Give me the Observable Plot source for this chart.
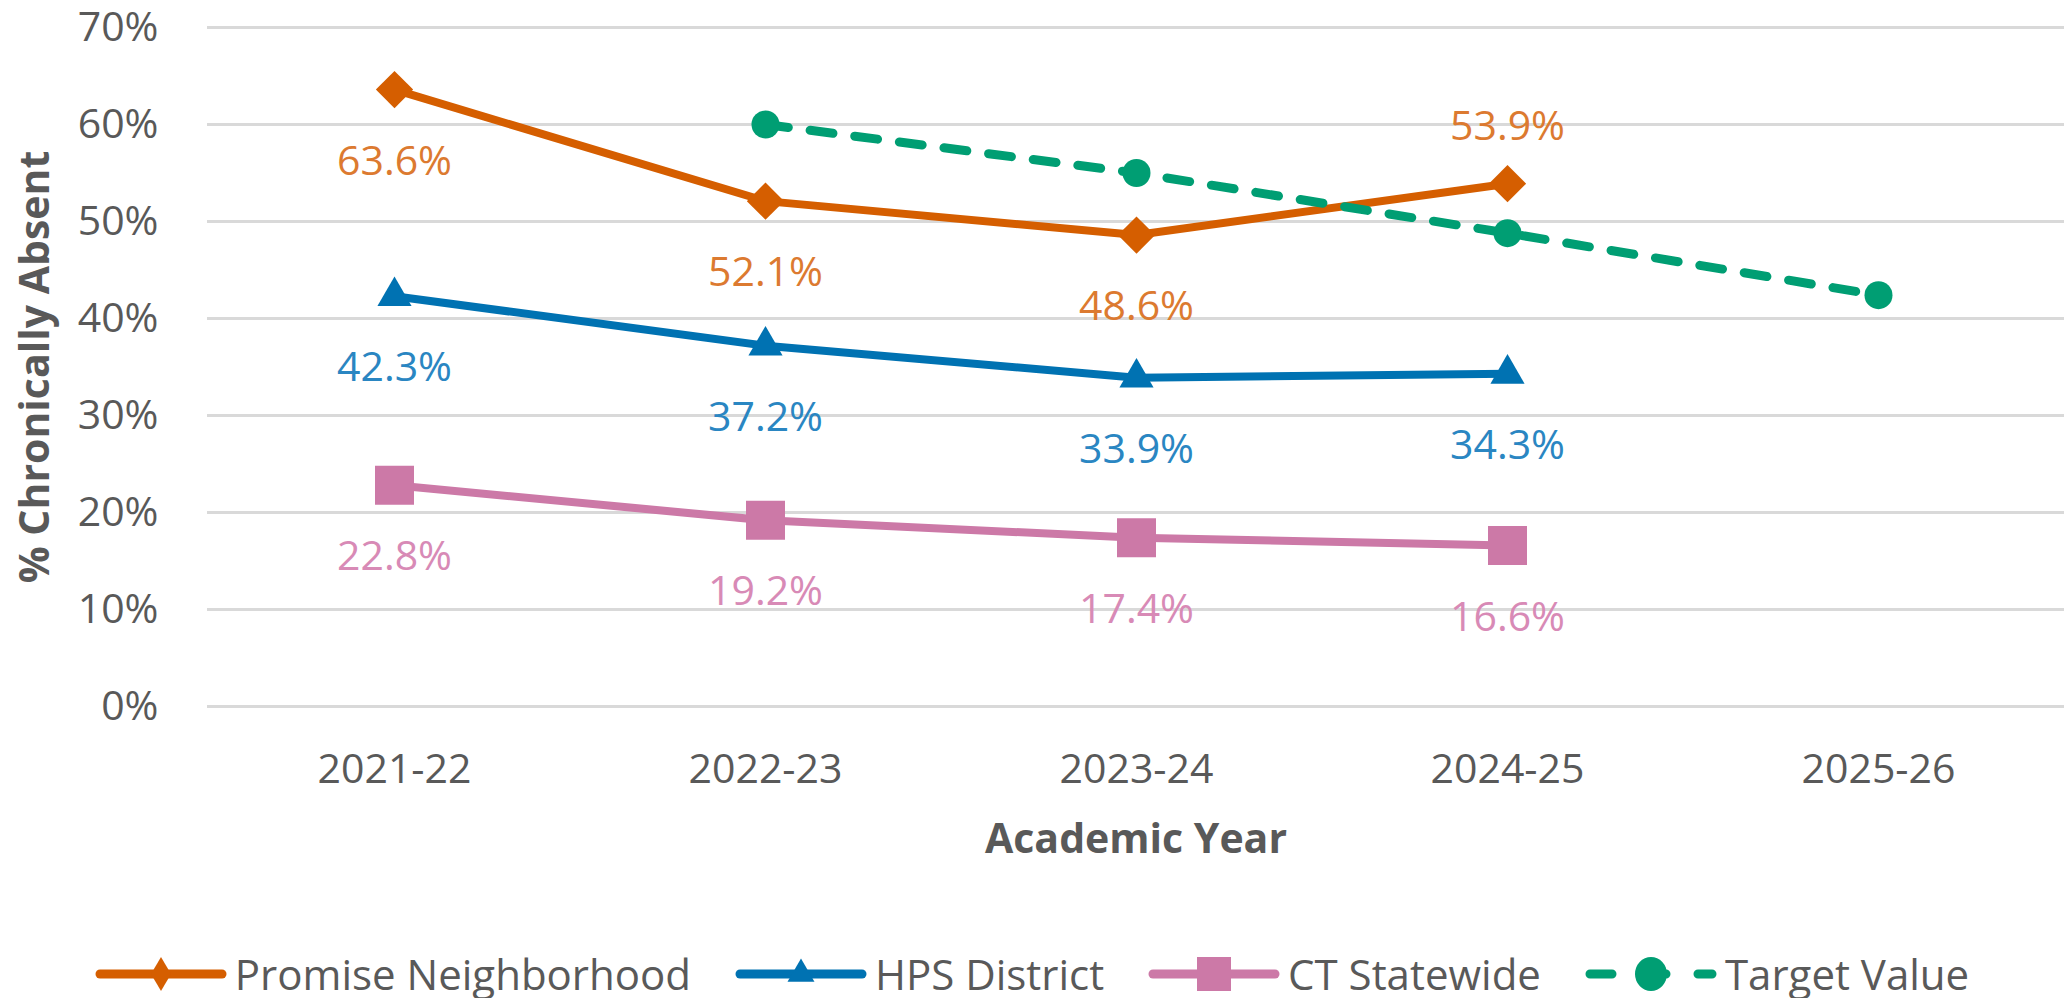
<!DOCTYPE html>
<html><head><meta charset="utf-8">
<script src="https://cdn.jsdelivr.net/npm/d3@7"></script>
<script src="https://cdn.jsdelivr.net/npm/@observablehq/plot@0.6"></script>
<style>
body{margin:0;background:#fff;font-family:"Open Sans",sans-serif;overflow:hidden;}
#chart svg{display:block;}
#legend{display:flex;justify-content:center;align-items:center;height:48px;font-size:42px;line-height:1;color:#595959;white-space:nowrap;}
.item{display:flex;align-items:center;margin:0 22px;}
.item svg{margin-right:8px;display:block;}
</style></head><body>
<div id="chart"></div><div id="legend"></div>
<script>
const years = ["2021-22","2022-23","2023-24","2024-25","2025-26"];
const seriesNames = ["Promise Neighborhood","HPS District","CT Statewide","Target Value"];
const promise = [63.6, 52.1, 48.6, 53.9, null];
const hps = [42.3, 37.2, 33.9, 34.3, null];
const ct = [22.8, 19.2, 17.4, 16.6, null];
const target = [null, 60.0, 55.0, 48.8, 42.4];
const yTicks = [0, 10, 20, 30, 40, 50, 60, 70];
const colors = ["#D55E00", "#0072B2", "#CC79A7", "#009E73"];
const labelColors = ["#DC7A30", "#2A86C2", "#D88AB6", "#009E73"];
const symbols = ["diamond2", "triangle2", "square", "circle"];

const values = [promise, hps, ct, target];
const rows = [];
values.forEach((arr, si) => arr.forEach((v, i) => {
  if (v != null) rows.push({series: seriesNames[si], year: years[i], value: v});
}));

const dotR = [16.8, 16.3, 22, 14];
const FS = 41;
const marks = [
  Plot.gridY(yTicks, {stroke: "#D9D9D9", strokeWidth: 3, strokeOpacity: 1}),
  Plot.axisY(yTicks, {tickSize: 0, tickPadding: 49, fontSize: FS, tickFormat: d => d + "%", label: null}),
  Plot.axisX({tickSize: 0, tickPadding: 47, fontSize: FS, label: null}),
  Plot.text(["% Chronically Absent"], {frameAnchor: "left", textAnchor: "middle", rotate: -90, dx: -172, fontSize: FS, fontWeight: "bold", fill: "#595959"}),
  Plot.text(["Academic Year"], {frameAnchor: "bottom", textAnchor: "middle", dy: 146, fontSize: FS, fontWeight: "bold", fill: "#595959"})
];
seriesNames.forEach((s, si) => {
  const data = rows.filter(d => d.series === s);
  const isTarget = s === "Target Value";
  marks.push(Plot.line(data, {x: "year", y: "value", stroke: colors[si], strokeWidth: isTarget ? 9 : 8,
    strokeDasharray: isTarget ? "23,22" : null, strokeLinecap: isTarget ? "round" : "butt", strokeLinejoin: "round"}));
  marks.push(Plot.dot(data, {x: "year", y: "value", symbol: symbols[si], r: dotR[si], fill: colors[si], stroke: "none"}));
});
// data labels
seriesNames.slice(0, 3).forEach((s, si) => {
  const data = rows.filter(d => d.series === s);
  const above = d => s === "Promise Neighborhood" && d.year === "2024-25";
  marks.push(Plot.text(data.filter(d => !above(d)), {x: "year", y: "value", text: d => d.value.toFixed(1) + "%", fill: labelColors[si], fontSize: FS, dy: 72}));
  marks.push(Plot.text(data.filter(above), {x: "year", y: "value", text: d => d.value.toFixed(1) + "%", fill: labelColors[si], fontSize: FS, dy: -57}));
});

const chart = Plot.plot({
  width: 2064, height: 950,
  marginLeft: 207, marginRight: 0, marginTop: 27, marginBottom: 244,
  style: {fontFamily: "'Open Sans', sans-serif", color: "#595959", background: "#fff"},
  x: {type: "point", domain: years, padding: 0.5},
  y: {domain: [0, 70]},
  marks
});
document.getElementById("chart").appendChild(chart);

// legend
const legend = d3.select("#legend");
seriesNames.forEach((s, si) => {
  const item = legend.append("div").attr("class", "item");
  const svg = item.append("svg").attr("width", 132).attr("height", 40);
  svg.append("line").attr("x1", 5).attr("x2", 127).attr("y1", 20).attr("y2", 20)
    .attr("stroke", colors[si]).attr("stroke-width", 9).attr("stroke-linecap", "round")
    .attr("stroke-dasharray", si === 3 ? "22,32" : null);
  const g = svg.append("g").attr("transform", "translate(66,20)").attr("fill", colors[si]);
  if (si === 0) g.append("path").attr("d", "M0,-17L10,0L0,17L-10,0Z");
  else if (si === 1) g.append("path").attr("d", d3.symbol(d3.symbolTriangle2, 520)());
  else if (si === 2) g.append("rect").attr("x", -17).attr("y", -17).attr("width", 34).attr("height", 34);
  else g.append("ellipse").attr("rx", 16).attr("ry", 17);
  item.append("span").text(s);
});
</script>
</body></html>
